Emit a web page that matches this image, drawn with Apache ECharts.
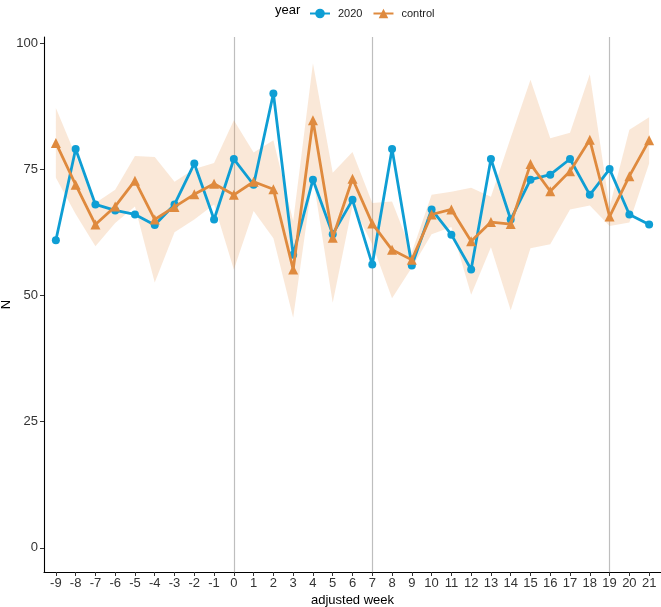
<!DOCTYPE html>
<html>
<head>
<meta charset="utf-8">
<script src="https://cdn.jsdelivr.net/npm/echarts@6/dist/echarts.min.js"></script>
<style>
html,body{margin:0;padding:0;background:#fff;}
#chart{width:661px;height:607px;}
</style>
</head>
<body>
<div id="chart"></div>
<script>
const weeks = [-9,-8,-7,-6,-5,-4,-3,-2,-1,0,1,2,3,4,5,6,7,8,9,10,11,12,13,14,15,16,17,18,19,20,21];
const tickWeeks = [-9,-8,-7,-6,-5,-4,-3,-2,-1,0,1,2,3,4,5,6,7,8,9,10,11,12,13,14,15,16,17,18,19,20,21];
const yTicks = [0,25,50,75,100];
const refWeeks = [0,7,19];
const values2020 = [61,79.1,68.1,66.9,66.1,64,68.1,76.2,65.1,77.1,72,90.1,58.1,73,62.2,69,56.2,79.1,56,67.1,62.1,55.2,77.1,65.1,73,74,77.1,70,75.1,66.1,64.1];
const valuesControl = [80.3,72,64.1,67.7,72.8,65.1,67.6,70.1,72.2,70,72.6,71.1,55.2,84.8,61.5,73.2,64.3,59.1,57.1,66.1,67.1,60.8,64.6,64.2,76.1,70.7,74.7,80.9,65.7,73.7,80.8];
const bandUpper = [87.2,77.8,68.4,71.0,77.7,77.5,72.6,75.1,76.3,84.8,78.4,80.8,64.8,96.1,74.4,78.5,68.4,68.7,58.6,70.0,70.6,71.4,69.6,81.3,92.8,81.2,82.3,93.9,67.6,82.9,85.4];
const bandLower = [73.4,66.2,59.8,64.4,67.7,52.6,62.6,65.1,68.1,55.2,66.8,61.4,45.6,73.5,48.6,67.9,60.2,49.5,55.6,62.2,63.6,50.2,59.6,47.1,59.4,60.2,67.1,67.9,63.8,64.5,76.2];

const BLUE = '#0E9ED4';
const ORANGE = '#DF8A3E';
const FONT = '"Liberation Sans", Arial, Helvetica, sans-serif';

const chart = echarts.init(document.getElementById('chart'), null, {renderer:'canvas'});

const bandData = weeks.map((w,i)=>[w, bandLower[i], bandUpper[i]]);

const option = {
  animation: false,
  backgroundColor: '#ffffff',
  textStyle: {fontFamily: FONT},
  grid: {left: 44, right: 0, top: 37, bottom: 35, containLabel: false, outerBoundsMode: 'none'},
  legend: {
    left: 304, top: 3,
    itemWidth: 20, itemHeight: 12, itemGap: 10,
    textStyle: {fontSize: 11, color: '#1a1a1a', fontFamily: FONT, padding:[0,0,0,3]},
    data: [
      {name: '2020'},
      {name: 'control'}
    ]
  },
  graphic: [{
    type: 'text', left: 275, top: 4,
    style: {text: 'year', font: '13px ' + FONT, fill: '#000'}
  }],
  xAxis: {
    type: 'value', min: -9.6, max: 21.6,
    name: 'adjusted week', nameLocation: 'middle', nameGap: 22, nameMoveOverlap: false,
    nameTextStyle: {fontSize: 13, color: '#000', fontFamily: FONT},
    axisLine: {show: true, onZero: false, lineStyle: {color: '#000', width: 1.1}},
    axisTick: {show: true, length: 4, lineStyle: {color: '#333', width: 1}, customValues: tickWeeks},
    axisLabel: {show: true, margin: 5, fontSize: 13, color: '#333', fontFamily: FONT, customValues: tickWeeks, formatter: v => String(v)},
    splitLine: {show: false}
  },
  yAxis: {
    type: 'value', min: -4.8, max: 101.3,
    name: 'N', nameLocation: 'middle', nameGap: 31, nameRotate: 90, nameMoveOverlap: false,
    nameTextStyle: {fontSize: 13, color: '#000', fontFamily: FONT},
    axisLine: {show: true, onZero: false, lineStyle: {color: '#000', width: 1.1}},
    axisTick: {show: true, length: 4, lineStyle: {color: '#333', width: 1}, customValues: yTicks},
    axisLabel: {show: true, margin: 6, fontSize: 13, color: '#333', fontFamily: FONT, customValues: yTicks},
    splitLine: {show: false}
  },
  series: [
    {
      type: 'custom', name: 'band', silent: true, z: 2,
      data: bandData,
      renderItem: function(params, api){
        if (params.dataIndex !== 0) return null;
        const top = bandData.map(d => api.coord([d[0], d[2]]));
        const bot = bandData.slice().reverse().map(d => api.coord([d[0], d[1]]));
        return {
          type: 'polygon',
          shape: {points: top.concat(bot)},
          style: {fill: 'rgba(230,140,60,0.2)', stroke: null}
        };
      },
      markLine: {
        silent: true, symbol: ['none','none'], label: {show:false},
        lineStyle: {color: '#BEBEBE', width: 1.2, type: 'solid'},
        data: refWeeks.map(w => ({xAxis: w})),
        z: 1
      }
    },
    {
      type: 'line', name: '2020', z: 3,
      data: weeks.map((w,i)=>[w, values2020[i]]),
      symbol: 'circle', symbolSize: 8,
      lineStyle: {color: BLUE, width: 2.8},
      itemStyle: {color: BLUE},
      showAllSymbol: true
    },
    {
      type: 'line', name: 'control', z: 4,
      data: weeks.map((w,i)=>[w, valuesControl[i]]),
      symbol: 'triangle', symbolSize: 10,
      lineStyle: {color: ORANGE, width: 2.8},
      itemStyle: {color: ORANGE},
      showAllSymbol: true
    }
  ]
};
chart.setOption(option);
</script>
</body>
</html>
